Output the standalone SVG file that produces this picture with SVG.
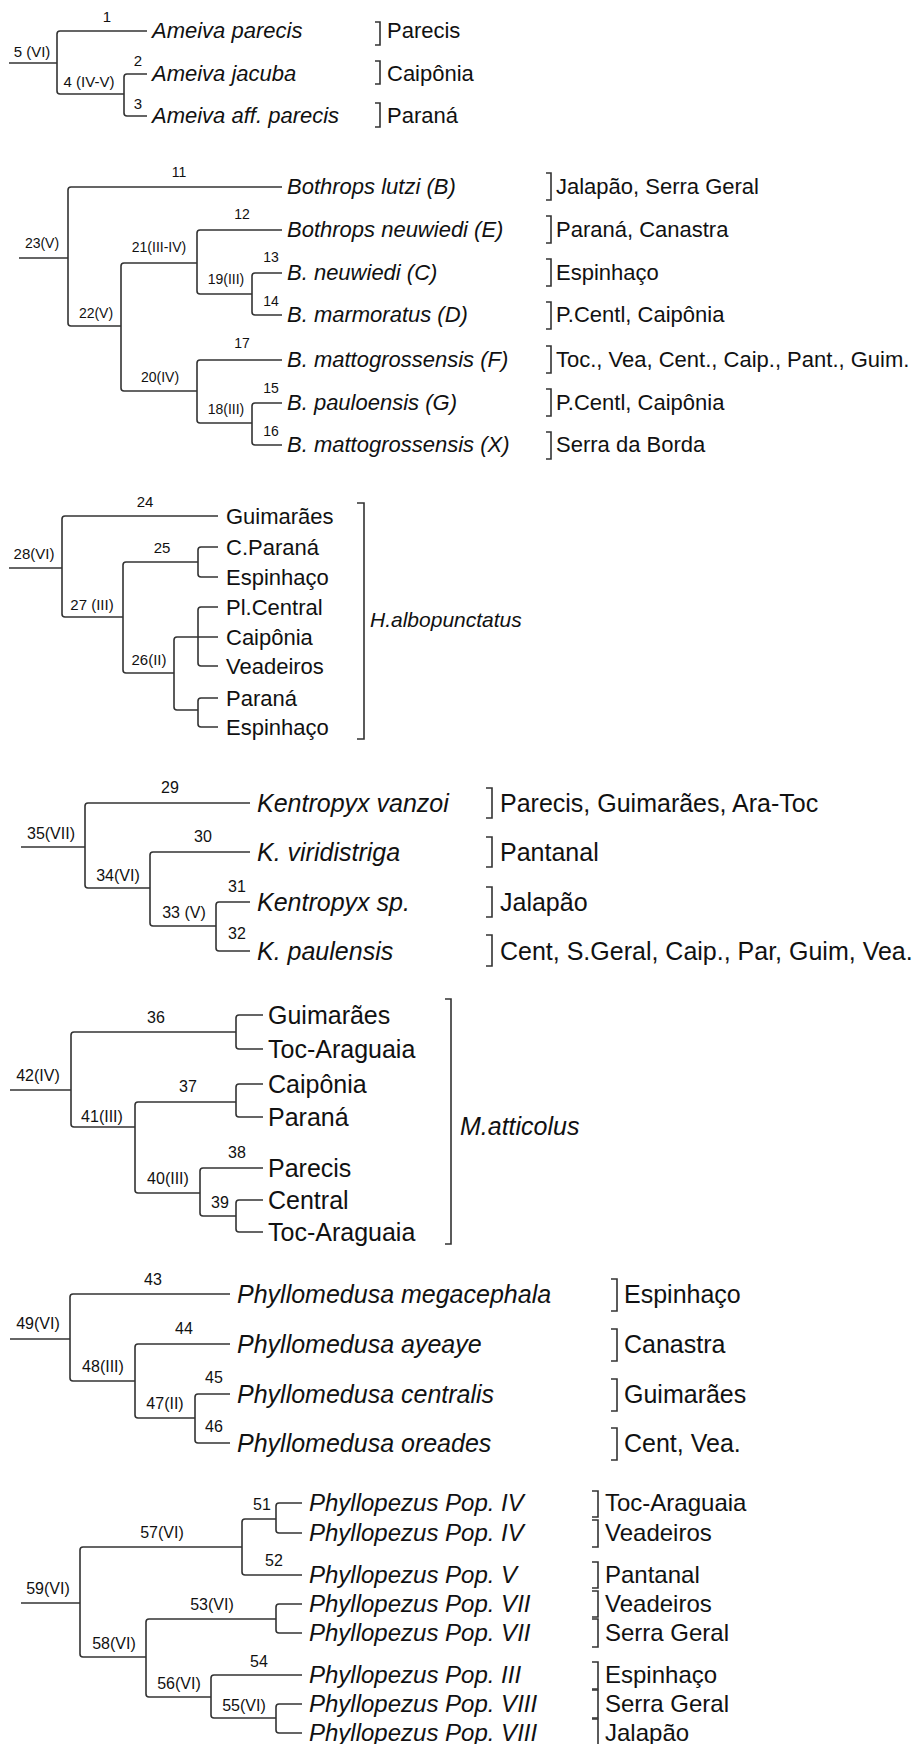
<svg xmlns="http://www.w3.org/2000/svg" width="918" height="1744" viewBox="0 0 918 1744">
<style>
.e{fill:none;stroke:#333;stroke-width:1.6}
.k{fill:none;stroke:#333;stroke-width:1.6}
text{font-family:"Liberation Sans",Arial,sans-serif;fill:#111}
.sp{font-style:italic}
.l14{font-size:14px;text-anchor:middle}
.l15{font-size:15px;text-anchor:middle}
.l16{font-size:16px;text-anchor:middle}
.f21{font-size:21px}
.f22{font-size:22px}
.f24{font-size:24px}
.f25{font-size:25px}
</style>
<rect width="918" height="1744" fill="#fff"/>

<!-- ============ Ameiva ============ -->
<g id="connectors-ameiva">
<path class="e" d="M9 63H57"/>
<path class="e" d="M147 31H60Q57 31 57 34V91Q57 94 60 94H124"/>
<path class="e" d="M147 74H127Q124 74 124 77V113Q124 116 127 116H147"/>
</g>
<g id="labels-ameiva">
<text class="l15" x="107" y="22">1</text>
<text class="l15" x="32" y="57">5 (VI)</text>
<text class="l15" x="89" y="87">4 (IV-V)</text>
<text class="l15" x="138" y="66">2</text>
<text class="l15" x="138" y="109">3</text>
</g>
<g id="ameiva-parecis"><text class="sp f22" x="152" y="38">Ameiva parecis</text><path class="k" d="M375 22H380V45H375"/><text class="f22" x="387" y="38">Parecis</text></g>
<g id="ameiva-jacuba"><text class="sp f22" x="152" y="81">Ameiva jacuba</text><path class="k" d="M375 61H380V84H375"/><text class="f22" x="387" y="81">Caipônia</text></g>
<g id="ameiva-aff"><text class="sp f22" x="152" y="123">Ameiva aff. parecis</text><path class="k" d="M375 103H380V127H375"/><text class="f22" x="387" y="123">Paraná</text></g>

<!-- ============ Bothrops ============ -->
<g id="connectors-bothrops">
<path class="e" d="M19 258H68"/>
<path class="e" d="M282 187H71Q68 187 68 190V323Q68 326 71 326H121"/>
<path class="e" d="M197 263H124Q121 263 121 266V388Q121 391 124 391H197"/>
<path class="e" d="M282 230H200Q197 230 197 233V291Q197 294 200 294H252"/>
<path class="e" d="M282 273H255Q252 273 252 276V312Q252 315 255 315H282"/>
<path class="e" d="M282 360H200Q197 360 197 363V420Q197 423 200 423H252"/>
<path class="e" d="M282 403H255Q252 403 252 406V442Q252 445 255 445H282"/>
</g>
<g id="labels-bothrops">
<text class="l14" x="179" y="177">11</text>
<text class="l14" x="42" y="248">23(V)</text>
<text class="l14" x="96" y="318">22(V)</text>
<text class="l14" x="159" y="252">21(III-IV)</text>
<text class="l14" x="242" y="219">12</text>
<text class="l14" x="226" y="284">19(III)</text>
<text class="l14" x="271" y="262">13</text>
<text class="l14" x="271" y="306">14</text>
<text class="l14" x="160" y="382">20(IV)</text>
<text class="l14" x="242" y="348">17</text>
<text class="l14" x="226" y="414">18(III)</text>
<text class="l14" x="271" y="393">15</text>
<text class="l14" x="271" y="436">16</text>
</g>
<g id="bothrops-lutzi"><text class="sp f22" x="287" y="194">Bothrops lutzi (B)</text><path class="k" d="M546 173H551V200H546"/><text class="f22" x="556" y="194">Jalapão, Serra Geral</text></g>
<g id="bothrops-neuwiedi-e"><text class="sp f22" x="287" y="237">Bothrops neuwiedi (E)</text><path class="k" d="M546 216H551V243H546"/><text class="f22" x="556" y="237">Paraná, Canastra</text></g>
<g id="b-neuwiedi-c"><text class="sp f22" x="287" y="280">B. neuwiedi (C)</text><path class="k" d="M546 259H551V286H546"/><text class="f22" x="556" y="280">Espinhaço</text></g>
<g id="b-marmoratus"><text class="sp f22" x="287" y="322">B. marmoratus (D)</text><path class="k" d="M546 302H551V329H546"/><text class="f22" x="556" y="322">P.Centl, Caipônia</text></g>
<g id="b-mattogrossensis-f"><text class="sp f22" x="287" y="367">B. mattogrossensis (F)</text><path class="k" d="M546 346H551V373H546"/><text class="f22" x="556" y="367">Toc., Vea, Cent., Caip., Pant., Guim.</text></g>
<g id="b-pauloensis"><text class="sp f22" x="287" y="410">B. pauloensis (G)</text><path class="k" d="M546 389H551V416H546"/><text class="f22" x="556" y="410">P.Centl, Caipônia</text></g>
<g id="b-mattogrossensis-x"><text class="sp f22" x="287" y="452">B. mattogrossensis (X)</text><path class="k" d="M546 432H551V459H546"/><text class="f22" x="556" y="452">Serra da Borda</text></g>

<!-- ============ Hyla ============ -->
<g id="connectors-hyla">
<path class="e" d="M9 568H62"/>
<path class="e" d="M218 516H65Q62 516 62 519V614Q62 617 65 617H123"/>
<path class="e" d="M198 562H126Q123 562 123 565V670Q123 673 126 673H174"/>
<path class="e" d="M218 547H201Q198 547 198 550V574Q198 577 201 577H218"/>
<path class="e" d="M218 637H177Q174 637 174 640V707Q174 710 177 710H198"/>
<path class="e" d="M218 607H201Q198 607 198 610V663Q198 666 201 666H218"/>
<path class="e" d="M218 698H201Q198 698 198 701V724Q198 727 201 727H218"/>
</g>
<g id="labels-hyla">
<text class="l15" x="145" y="507">24</text>
<text class="l15" x="34" y="559">28(VI)</text>
<text class="l15" x="162" y="553">25</text>
<text class="l15" x="92" y="610">27 (III)</text>
<text class="l15" x="149" y="665">26(II)</text>
</g>
<g id="hyla-taxa">
<text class="f22" x="226" y="524">Guimarães</text>
<text class="f22" x="226" y="555">C.Paraná</text>
<text class="f22" x="226" y="585">Espinhaço</text>
<text class="f22" x="226" y="615">Pl.Central</text>
<text class="f22" x="226" y="645">Caipônia</text>
<text class="f22" x="226" y="674">Veadeiros</text>
<text class="f22" x="226" y="706">Paraná</text>
<text class="f22" x="226" y="735">Espinhaço</text>
</g>
<g id="h-albopunctatus"><path class="k" d="M357 503H364V739H357"/><text class="sp f21" x="370" y="627">H.albopunctatus</text></g>

<!-- ============ Kentropyx ============ -->
<g id="connectors-kentropyx">
<path class="e" d="M21 847H85"/>
<path class="e" d="M250 803H88Q85 803 85 806V885Q85 888 88 888H150"/>
<path class="e" d="M250 852H153Q150 852 150 855V923Q150 926 153 926H216"/>
<path class="e" d="M250 902H219Q216 902 216 905V948Q216 951 219 951H250"/>
</g>
<g id="labels-kentropyx">
<text class="l16" x="170" y="793">29</text>
<text class="l16" x="51" y="839">35(VII)</text>
<text class="l16" x="203" y="842">30</text>
<text class="l16" x="118" y="881">34(VI)</text>
<text class="l16" x="237" y="892">31</text>
<text class="l16" x="184" y="918">33 (V)</text>
<text class="l16" x="237" y="939">32</text>
</g>
<g id="k-vanzoi"><text class="sp f25" x="257" y="812">Kentropyx vanzoi</text><path class="k" d="M486 788H492V818H486"/><text class="f25" x="500" y="812">Parecis, Guimarães, Ara-Toc</text></g>
<g id="k-viridistriga"><text class="sp f25" x="257" y="861">K. viridistriga</text><path class="k" d="M486 837H492V867H486"/><text class="f25" x="500" y="861">Pantanal</text></g>
<g id="k-sp"><text class="sp f25" x="257" y="911">Kentropyx sp.</text><path class="k" d="M486 887H492V917H486"/><text class="f25" x="500" y="911">Jalapão</text></g>
<g id="k-paulensis"><text class="sp f25" x="257" y="960">K. paulensis</text><path class="k" d="M486 935H492V966H486"/><text class="f25" x="500" y="960">Cent, S.Geral, Caip., Par, Guim, Vea.</text></g>

<!-- ============ M.atticolus ============ -->
<g id="connectors-matticolus">
<path class="e" d="M10 1090H71"/>
<path class="e" d="M236 1032H74Q71 1032 71 1035V1124Q71 1127 74 1127H135"/>
<path class="e" d="M263 1015H239Q236 1015 236 1018V1046Q236 1049 239 1049H263"/>
<path class="e" d="M236 1102H138Q135 1102 135 1105V1190Q135 1193 138 1193H200"/>
<path class="e" d="M263 1084H239Q236 1084 236 1087V1114Q236 1117 239 1117H263"/>
<path class="e" d="M263 1168H203Q200 1168 200 1171V1213Q200 1216 203 1216H236"/>
<path class="e" d="M263 1200H239Q236 1200 236 1203V1229Q236 1232 239 1232H263"/>
</g>
<g id="labels-matticolus">
<text class="l16" x="156" y="1023">36</text>
<text class="l16" x="38" y="1081">42(IV)</text>
<text class="l16" x="188" y="1092">37</text>
<text class="l16" x="102" y="1122">41(III)</text>
<text class="l16" x="237" y="1158">38</text>
<text class="l16" x="168" y="1184">40(III)</text>
<text class="l16" x="220" y="1208">39</text>
</g>
<g id="matticolus-taxa">
<text class="f25" x="268" y="1024">Guimarães</text>
<text class="f25" x="268" y="1058">Toc-Araguaia</text>
<text class="f25" x="268" y="1093">Caipônia</text>
<text class="f25" x="268" y="1126">Paraná</text>
<text class="f25" x="268" y="1177">Parecis</text>
<text class="f25" x="268" y="1209">Central</text>
<text class="f25" x="268" y="1241">Toc-Araguaia</text>
</g>
<g id="m-atticolus"><path class="k" d="M445 999H451V1244H445"/><text class="sp f25" x="460" y="1135">M.atticolus</text></g>

<!-- ============ Phyllomedusa ============ -->
<g id="connectors-phyllomedusa">
<path class="e" d="M10 1339H70"/>
<path class="e" d="M230 1294H73Q70 1294 70 1297V1378Q70 1381 73 1381H135"/>
<path class="e" d="M230 1344H138Q135 1344 135 1347V1415Q135 1418 138 1418H195"/>
<path class="e" d="M230 1394H198Q195 1394 195 1397V1440Q195 1443 198 1443H230"/>
</g>
<g id="labels-phyllomedusa">
<text class="l16" x="153" y="1285">43</text>
<text class="l16" x="38" y="1329">49(VI)</text>
<text class="l16" x="184" y="1334">44</text>
<text class="l16" x="103" y="1372">48(III)</text>
<text class="l16" x="214" y="1383">45</text>
<text class="l16" x="165" y="1409">47(II)</text>
<text class="l16" x="214" y="1432">46</text>
</g>
<g id="p-megacephala"><text class="sp f25" x="237" y="1303">Phyllomedusa megacephala</text><path class="k" d="M611 1279H617V1311H611"/><text class="f25" x="624" y="1303">Espinhaço</text></g>
<g id="p-ayeaye"><text class="sp f25" x="237" y="1353">Phyllomedusa ayeaye</text><path class="k" d="M611 1329H617V1361H611"/><text class="f25" x="624" y="1353">Canastra</text></g>
<g id="p-centralis"><text class="sp f25" x="237" y="1403">Phyllomedusa centralis</text><path class="k" d="M611 1379H617V1411H611"/><text class="f25" x="624" y="1403">Guimarães</text></g>
<g id="p-oreades"><text class="sp f25" x="237" y="1452">Phyllomedusa oreades</text><path class="k" d="M611 1428H617V1460H611"/><text class="f25" x="624" y="1452">Cent, Vea.</text></g>

<!-- ============ Phyllopezus ============ -->
<g id="connectors-phyllopezus">
<path class="e" d="M21 1603H80"/>
<path class="e" d="M242 1547H83Q80 1547 80 1550V1654Q80 1657 83 1657H146"/>
<path class="e" d="M276 1519H245Q242 1519 242 1522V1572Q242 1575 245 1575H302"/>
<path class="e" d="M302 1503H279Q276 1503 276 1506V1530Q276 1533 279 1533H302"/>
<path class="e" d="M276 1619H149Q146 1619 146 1622V1694Q146 1697 149 1697H211"/>
<path class="e" d="M302 1604H279Q276 1604 276 1607V1630Q276 1633 279 1633H302"/>
<path class="e" d="M302 1675H214Q211 1675 211 1678V1715Q211 1718 214 1718H276"/>
<path class="e" d="M302 1704H279Q276 1704 276 1707V1730Q276 1733 279 1733H302"/>
</g>
<g id="labels-phyllopezus">
<text class="l16" x="162" y="1538">57(VI)</text>
<text class="l16" x="262" y="1510">51</text>
<text class="l16" x="274" y="1566">52</text>
<text class="l16" x="48" y="1594">59(VI)</text>
<text class="l16" x="114" y="1649">58(VI)</text>
<text class="l16" x="212" y="1610">53(VI)</text>
<text class="l16" x="179" y="1689">56(VI)</text>
<text class="l16" x="259" y="1667">54</text>
<text class="l16" x="244" y="1711">55(VI)</text>
</g>
<g id="pop-iv-a"><text class="sp f24" x="309" y="1511">Phyllopezus Pop. IV</text><path class="k" d="M592 1491H598V1517H592"/><text class="f24" x="605" y="1511">Toc-Araguaia</text></g>
<g id="pop-iv-b"><text class="sp f24" x="309" y="1541">Phyllopezus Pop. IV</text><path class="k" d="M592 1520H598V1547H592"/><text class="f24" x="605" y="1541">Veadeiros</text></g>
<g id="pop-v"><text class="sp f24" x="309" y="1583">Phyllopezus Pop. V</text><path class="k" d="M592 1562H598V1588H592"/><text class="f24" x="605" y="1583">Pantanal</text></g>
<g id="pop-vii-a"><text class="sp f24" x="309" y="1612">Phyllopezus Pop. VII</text><path class="k" d="M592 1591H598V1617H592"/><text class="f24" x="605" y="1612">Veadeiros</text></g>
<g id="pop-vii-b"><text class="sp f24" x="309" y="1641">Phyllopezus Pop. VII</text><path class="k" d="M592 1619H598V1647H592"/><text class="f24" x="605" y="1641">Serra Geral</text></g>
<g id="pop-iii"><text class="sp f24" x="309" y="1683">Phyllopezus Pop. III</text><path class="k" d="M592 1662H598V1689H592"/><text class="f24" x="605" y="1683">Espinhaço</text></g>
<g id="pop-viii-a"><text class="sp f24" x="309" y="1712">Phyllopezus Pop. VIII</text><path class="k" d="M592 1690H598V1718H592"/><text class="f24" x="605" y="1712">Serra Geral</text></g>
<g id="pop-viii-b"><text class="sp f24" x="309" y="1741">Phyllopezus Pop. VIII</text><path class="k" d="M592 1719H598V1746"/><text class="f24" x="605" y="1741">Jalapão</text></g>
</svg>
